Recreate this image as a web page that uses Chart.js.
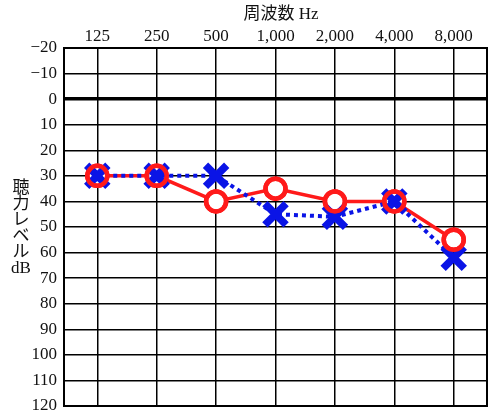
<!doctype html>
<html lang="ja">
<head>
<meta charset="utf-8"/>
<title>オージオグラム</title>
<script src="https://cdn.jsdelivr.net/npm/chart.js"></script>
<style>
*{box-sizing:border-box} html,body{margin:0;padding:0;background:#fff}
.wrap{width:500px;height:416px;position:relative}
</style>
</head>
<body>
<div class="wrap"><canvas id="chart" width="500" height="416"></canvas></div>
<script>
// frequencies (Hz) shown along the top
const freqLabels = ['125', '250', '500', '1,000', '2,000', '4,000', '8,000'];
// hearing level in dB (red = O, blue = X)
const rightEar = [30, 30, 40, 35, 40, 40, 55];
const leftEar  = [30, 30, 30, 45, 46, 40, 62];
// y ticks
const yTicks = [-20, -10, 0, 10, 20, 30, 40, 50, 60, 70, 80, 90, 100, 110, 120];
const xTitle = '周波数 Hz';
const yTitle = ['聴', '力', 'レ', 'ベ', 'ル', 'dB'];

const SERIF = "'Liberation Serif','DejaVu Serif','Noto Sans CJK JP',serif";
const pts = arr => arr.map((v, i) => ({ x: i, y: v }));

const frame = {
  id: 'frame',
  afterDraw(chart){
    const { ctx, chartArea: a } = chart;
    ctx.save();
    ctx.strokeStyle = '#000';
    ctx.lineWidth = 2;
    ctx.strokeRect(a.left, a.top, a.right - a.left, a.bottom - a.top);
    ctx.fillStyle = '#111';
    ctx.textAlign = 'center';
    ctx.textBaseline = 'middle';
    ctx.font = '17px ' + SERIF;
    ctx.fillText(xTitle, 281, 15);
    yTitle.forEach((c, i) => ctx.fillText(c, 21, 189 + i * 16));
    ctx.restore();
  }
};

new Chart(document.getElementById('chart'), {
  type: 'line',
  data: {
    datasets: [
      { // red rings on top
        data: pts(rightEar), showLine: false,
        pointStyle: 'circle', pointRadius: 10, pointBorderWidth: 4.5,
        pointBorderColor: '#ff1a1a', pointBackgroundColor: 'rgba(0,0,0,0)'
      },
      { // blue X, dotted
        data: pts(leftEar), borderColor: '#0a14e6', borderWidth: 4, borderDash: [4, 4],
        pointStyle: 'crossRot', pointRadius: 15, pointBorderWidth: 7.5,
        pointBorderColor: '#0a14e6', pointBackgroundColor: '#0a14e6'
      },
      { // red line with white filled circles underneath
        data: pts(rightEar), borderColor: '#ff1a1a', borderWidth: 3.5,
        pointStyle: 'circle', pointRadius: 10, pointBorderWidth: 4.5,
        pointBorderColor: '#ff1a1a', pointBackgroundColor: '#fff'
      }
    ]
  },
  options: {
    responsive: false,
    animation: false,
    layout: { autoPadding: false, padding: { left: 0, right: 13, top: 0, bottom: 10 } },
    plugins: { legend: { display: false }, tooltip: { enabled: false } },
    scales: {
      x: {
        type: 'linear', position: 'top', min: -0.56, max: 6.56,
        afterFit: s => { s.height = 48; s.paddingLeft = 0; s.paddingRight = 0; },
        afterBuildTicks: s => { s.ticks = freqLabels.map((_, i) => ({ value: i })); },
        ticks: {
          autoSkip: false, maxRotation: 0, padding: 1, color: '#111',
          font: { family: SERIF, size: 17 },
          callback: v => freqLabels[v] || ''
        },
        grid: { color: '#000', lineWidth: 1.5, drawTicks: false },
        border: { display: true, color: '#000', width: 2 }
      },
      y: {
        reverse: true, min: -20, max: 120,
        afterFit: s => { s.width = 64; s.paddingTop = 0; s.paddingBottom = 0; },
        afterBuildTicks: s => { s.ticks = yTicks.map(v => ({ value: v })); },
        ticks: {
          autoSkip: false, padding: 7, color: '#111',
          font: { family: SERIF, size: 17 },
          callback: v => v < 0 ? '\u2212' + Math.abs(v) : String(v)
        },
        grid: {
          color: '#000', drawTicks: false,
          lineWidth: c => (c.tick && c.tick.value === 0) ? 3.5 : 1.5
        },
        border: { display: true, color: '#000', width: 2 }
      }
    }
  },
  plugins: [frame]
});
</script>
</body>
</html>
